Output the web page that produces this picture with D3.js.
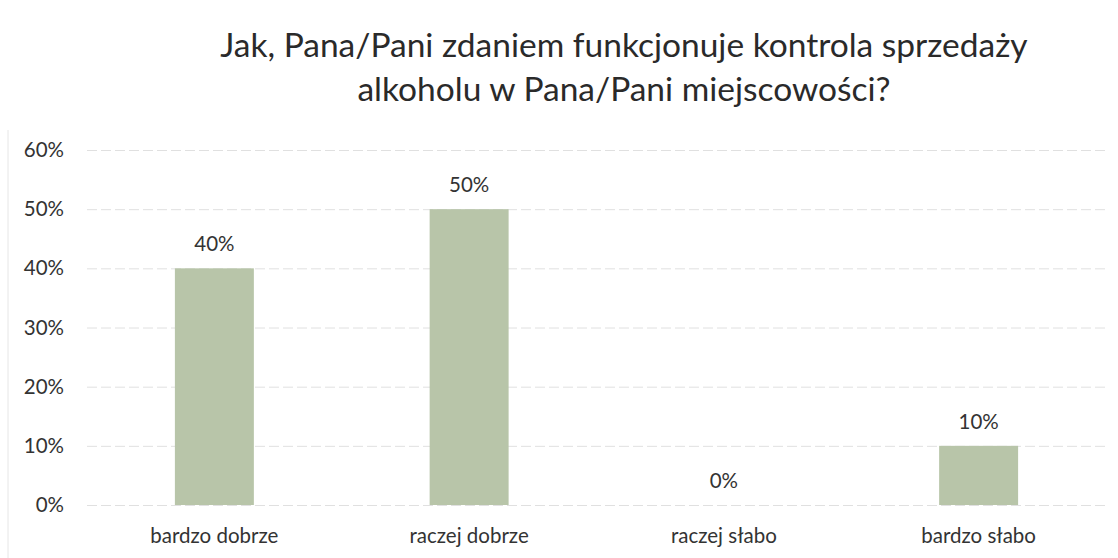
<!DOCTYPE html>
<html><head><meta charset="utf-8">
<script src="https://cdn.jsdelivr.net/npm/d3@7"></script>
<style>body{margin:0;background:#fff}svg{display:block}</style>
</head><body>
<script>
const categories = ["bardzo dobrze","raczej dobrze","raczej słabo","bardzo słabo"];
const values = [0.40, 0.50, 0.00, 0.10];
const yTicks = [0,0.1,0.2,0.3,0.4,0.5,0.6];
const titleLines = ["Jak, Pana/Pani zdaniem funkcjonuje kontrola sprzedaży","alkoholu w Pana/Pani miejscowości?"];

const W=1118,H=558;
const svg=d3.select("body").append("svg").attr("width",W).attr("height",H);
const font="Lato, 'Open Sans', sans-serif";
const pL=87,pR=1106,pT=150,pB=505;
const x=d3.scaleBand().domain(categories).range([pL,pR]).paddingInner(0.69).paddingOuter(0.345);
const y=d3.scaleLinear().domain([0,0.6]).range([pB,pT]);

svg.append("line").attr("x1",8).attr("x2",8).attr("y1",130).attr("y2",558).attr("stroke","#e6e6e6");

const yAxis=d3.axisLeft(y).tickValues(yTicks).tickFormat(d3.format(".0%")).tickSize(-(pR-pL)).tickPadding(23);
const ga=svg.append("g").attr("transform",`translate(${pL},0)`).call(yAxis);
ga.select(".domain").remove();
ga.selectAll(".tick line").attr("stroke","#e0e0e0").attr("stroke-dasharray","10,4");
ga.selectAll(".tick text").attr("font-family",font).attr("font-size",20.5).attr("fill","#333");

svg.selectAll("rect.bar").data(values).join("rect").attr("class","bar")
  .attr("x",(d,i)=>x(categories[i])).attr("width",x.bandwidth())
  .attr("y",d=>y(d)).attr("height",d=>y(0)-y(d)).attr("fill","#b8c5a9");

svg.selectAll("text.lbl").data(values).join("text").attr("class","lbl")
  .attr("x",(d,i)=>x(categories[i])+x.bandwidth()/2).attr("y",d=>y(d)-17)
  .attr("text-anchor","middle").attr("font-family",font).attr("font-size",20.5).attr("fill","#333")
  .text(d=>d3.format(".0%")(d));

const xAxis=d3.axisBottom(x).tickSize(0).tickPadding(23);
const gx=svg.append("g").attr("transform",`translate(0,${pB})`).call(xAxis);
gx.select(".domain").remove();
gx.selectAll(".tick text").attr("font-family",font).attr("font-size",20.5).attr("fill","#333");

svg.selectAll("text.title").data(titleLines).join("text").attr("class","title")
  .attr("x",624).attr("y",(d,i)=>57+i*44).attr("text-anchor","middle")
  .attr("font-family",font).attr("font-size",33.5).attr("fill","#2a2a2a").text(d=>d);
</script>
</body></html>
